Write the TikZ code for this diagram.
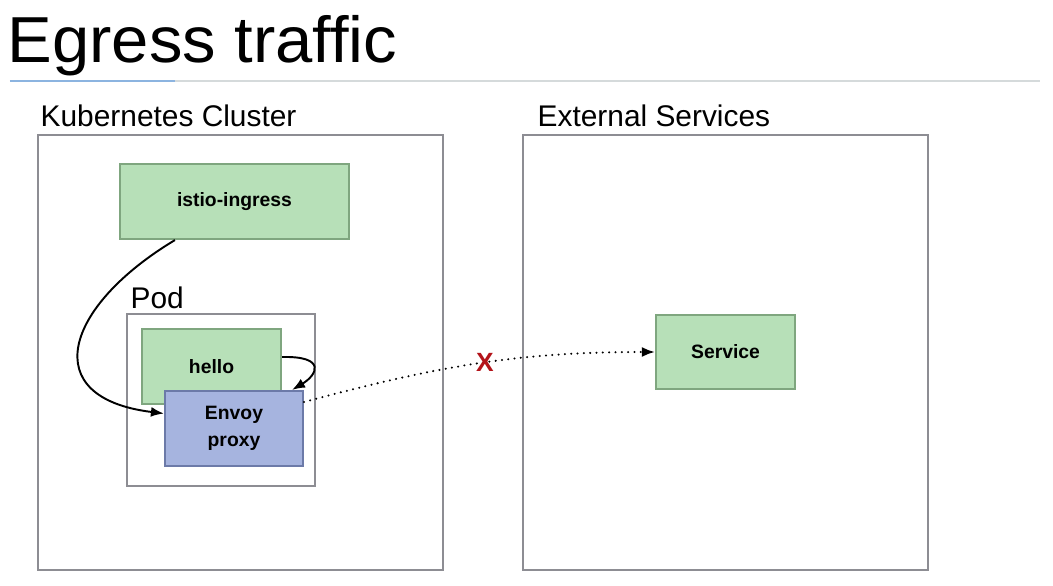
\documentclass[tikz,border=0pt]{standalone}
\usepackage{fontspec}
\setmainfont{Liberation Sans}
\usepackage{tikz}
\usetikzlibrary{arrows.meta}
\tikzset{>={Latex[length=2.6mm,width=2mm]}}

\definecolor{framegray}{HTML}{8D8D93}
\definecolor{rulegray}{HTML}{D5DADB}
\definecolor{ruleblue}{HTML}{8CB4E0}
\definecolor{greenfill}{HTML}{B7E0B8}
\definecolor{greenline}{HTML}{7FA67F}
\definecolor{bluefill}{HTML}{A6B4DF}
\definecolor{blueline}{HTML}{6C7AA8}
\definecolor{crossred}{HTML}{B3141A}

\begin{document}
\begin{tikzpicture}[thick,
    frame/.style = {draw=framegray, line width=1.2pt},
    heading/.style = {anchor=base west, inner sep=0pt, font=\fontsize{17}{20}\selectfont},
    block/.style = {draw=greenline, fill=greenfill, line width=1.2pt, inner sep=0pt,
        minimum width=2.78cm, minimum height=1.5cm, align=center,
        font=\bfseries\fontsize{11}{14}\selectfont},
    proxy/.style = {block, draw=blueline, fill=bluefill}]
\useasboundingbox (0,0) rectangle (21.06,-11.72);
    % title and rule
    \node[anchor=base west, inner sep=0pt, font=\fontsize{37}{40}\selectfont, xscale=1.03] (title) at (0.14,-1.24) {Egress traffic};
    \draw[rulegray, line width=1pt] (0.2,-1.62) -- (20.8,-1.62);
    \draw[ruleblue, line width=1pt] (0.2,-1.62) -- (3.5,-1.62);
    % the two areas
    \node[heading] (k8s) at (0.8,-2.52) {Kubernetes Cluster};
    \node[heading] (ext) at (10.74,-2.52) {External Services};
    \draw[frame] (0.76,-2.7) rectangle (8.86,-11.4);
    \draw[frame] (10.46,-2.7) rectangle (18.56,-11.4);
    \node[heading] (podlabel) at (2.6,-6.16) {Pod};
    \draw[frame] (2.54,-6.28) rectangle (6.3,-9.72);
    % nodes
    \node[block, minimum width=4.58cm] (ingress) at (4.69,-4.03) {istio-ingress};
    \node[block] (hello) at (4.23,-7.33) {hello};
    \node[proxy, minimum width=2.76cm] (envoy) at (4.68,-8.57) {Envoy\\[1pt]proxy};
    \node[block, minimum height=1.48cm] (service) at (14.51,-7.04) {Service};
    % connectors
    \draw[->, line width=1.1pt] ([xshift=1.12cm]ingress.south west) to [out=211,in=173,looseness=1.9] ([yshift=0.3cm]envoy.west);
    \draw[->, line width=1.1pt] ([yshift=0.19cm]hello.east) .. controls +(0.9,0.02) and +(0.5,0.3) .. ([xshift=-0.24cm]envoy.north east);
    \draw[->, line width=1.3pt, line cap=round, dash pattern=on 0pt off 3.6pt] ([yshift=0.53cm]envoy.east) to [out=15,in=180] (service.west);
    \node[text=crossred, font=\bfseries\fontsize{15}{17}\selectfont, inner sep=0pt] (block) at (9.7,-7.24) {X};
\end{tikzpicture}
\end{document}
